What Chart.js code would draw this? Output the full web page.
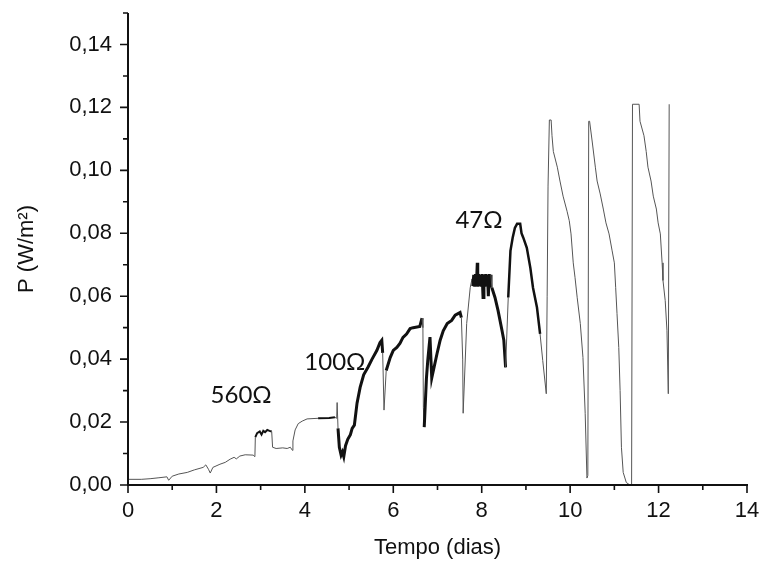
<!DOCTYPE html>
<html>
<head>
<meta charset="utf-8">
<script src="https://cdn.jsdelivr.net/npm/chart.js@4.4.1/dist/chart.umd.min.js"></script>
<style>
html,body{margin:0;padding:0;background:#fff;}
#wrap{width:763px;height:564px;position:relative;}
</style>
</head>
<body>
<div id="wrap"><canvas id="c" width="763" height="564"></canvas></div>
<script>
// ---- data ----
const tempo = [
 0.00,0.30,0.50,0.70,0.88,0.92,1.00,1.15,1.34,1.50,1.70,1.76,1.82,1.86,1.92,2.08,2.20,2.31,2.40,2.45,
 2.53,2.65,2.83,2.87,2.88,2.92,2.98,3.02,3.06,3.10,3.15,3.20,3.25,3.27,3.35,3.50,3.60,3.67,3.72,3.73,
 3.78,3.85,3.94,4.05,4.30,4.55,4.68,4.72,4.73,4.75,4.78,4.82,4.85,4.88,4.92,4.97,5.03,5.07,5.12,5.18,
 5.25,5.33,5.43,5.52,5.63,5.70,5.74,5.76,5.79,5.84,5.93,6.00,6.08,6.15,6.22,6.30,6.38,6.45,6.60,6.65,
 6.67,6.68,6.70,6.75,6.78,6.83,6.87,6.99,7.06,7.13,7.22,7.32,7.40,7.51,7.54,7.57,7.58,7.66,7.74,7.78,
 7.80,7.82,7.84,7.86,7.88,7.90,7.91,7.93,7.95,7.97,7.99,8.01,8.03,8.05,8.07,8.09,8.11,8.13,8.15,8.17,
 8.19,8.21,8.23,8.30,8.37,8.46,8.50,8.54,8.60,8.65,8.70,8.75,8.80,8.87,8.90,8.94,9.02,9.10,9.16,9.25,
 9.32,9.38,9.46,9.48,9.50,9.53,9.57,9.59,9.62,9.71,9.77,9.84,9.93,9.98,10.02,10.07,10.11,10.16,10.23,10.29,
 10.34,10.38,10.40,10.42,10.44,10.50,10.57,10.61,10.68,10.75,10.81,10.88,10.95,11.00,11.03,11.06,11.10,11.13,11.16,11.20,
 11.27,11.35,11.39,11.41,11.56,11.58,11.67,11.72,11.76,11.83,11.88,11.95,11.99,12.04,12.08,12.10,12.15,12.19,12.22,12.24
];
const potencia = [
 0.0018,0.0018,0.0020,0.0023,0.0026,0.0015,0.0028,0.0035,0.0040,0.0048,0.0056,0.0064,0.0050,0.0038,0.0056,0.0066,0.0072,0.0082,0.0088,0.0083,
 0.0092,0.0096,0.0095,0.0090,0.0152,0.0165,0.0170,0.0160,0.0172,0.0168,0.0175,0.0172,0.0170,0.0120,0.0116,0.0118,0.0116,0.0120,0.0110,0.0140,
 0.0175,0.0195,0.0203,0.0210,0.0212,0.0213,0.0215,0.0212,0.0262,0.0180,0.0120,0.0095,0.0105,0.0090,0.0125,0.0145,0.0160,0.0180,0.0190,0.0260,
 0.0310,0.0350,0.0375,0.0400,0.0428,0.0453,0.0460,0.0420,0.0238,0.0364,0.0405,0.0428,0.0437,0.0450,0.0469,0.0480,0.0497,0.0500,0.0504,0.0530,
 0.0500,0.0247,0.0184,0.0340,0.0396,0.0470,0.0340,0.0418,0.0460,0.0490,0.0513,0.0523,0.0540,0.0548,0.0532,0.0400,0.0228,0.0513,0.0627,0.0655,
 0.0632,0.0668,0.0630,0.0670,0.0632,0.0706,0.0630,0.0670,0.0632,0.0668,0.0630,0.0670,0.0596,0.0668,0.0630,0.0670,0.0632,0.0668,0.0600,0.0670,
 0.0632,0.0668,0.0627,0.0596,0.0554,0.0490,0.0460,0.0374,0.0596,0.0744,0.0786,0.0817,0.0830,0.0830,0.0800,0.0786,0.0754,0.0690,0.0627,0.0564,
 0.0480,0.0396,0.0290,0.0600,0.0950,0.1160,0.1160,0.1110,0.1060,0.1010,0.0966,0.0918,0.0870,0.0840,0.0798,0.0706,0.0660,0.0595,0.0513,0.0405,
 0.0228,0.0022,0.0030,0.1156,0.1156,0.1090,0.1010,0.0966,0.0925,0.0877,0.0833,0.0798,0.0744,0.0706,0.0627,0.0545,0.0437,0.0300,0.0120,0.0040,
 0.0008,0.0000,0.0000,0.1210,0.1210,0.1156,0.1110,0.1060,0.1010,0.0966,0.0918,0.0877,0.0833,0.0798,0.0706,0.0650,0.0586,0.0490,0.0290,0.1210
];
const xTickValues = [0,2,4,6,8,10,12,14];
const yTickValues = [0,0.02,0.04,0.06,0.08,0.10,0.12,0.14];
const labelTexts = ['560\u03A9','100\u03A9','47\u03A9'];
const labelX = [2.56,4.68,7.94];
const labelY = [0.0285,0.0390,0.0840];

// ---- styling ----
const FONT = '"Liberation Sans", Arial, sans-serif';
const noisyRanges = [[2.88,3.26,2],[4.20,4.70,2],[4.74,5.77,3],[5.80,6.66,3],[6.70,7.56,3],[7.79,8.22,3],[8.22,8.56,3],[8.58,9.35,2.5]];
function widthFor(a,b){
  for(const r of noisyRanges){ if(a>=r[0] && b<=r[1]) return r[2]; }
  return 1;
}

const axesPlugin = {
  id:'axesPlugin',
  afterDraw(chart){
    const ctx = chart.ctx, xs = chart.scales.x, ys = chart.scales.y;
    const x0 = xs.getPixelForValue(0), x1 = xs.getPixelForValue(14);
    const y0 = ys.getPixelForValue(0), y1 = ys.getPixelForValue(0.15);
    ctx.save();
    ctx.strokeStyle = '#111';
    ctx.lineWidth = 2;
    ctx.beginPath();
    ctx.moveTo(x0, y1); ctx.lineTo(x0, y0+1);
    ctx.moveTo(x0-1, y0); ctx.lineTo(x1+1, y0);
    ctx.stroke();
    ctx.lineWidth = 1.6;
    ctx.beginPath();
    for(let i=0;i<=15;i++){
      const v = i/100, p = ys.getPixelForValue(v), len = (i%2===0)?8:5;
      ctx.moveTo(x0, p); ctx.lineTo(x0-len, p);
    }
    for(let i=0;i<=14;i++){
      const p = xs.getPixelForValue(i), len = (i%2===0)?8:5;
      ctx.moveTo(p, y0); ctx.lineTo(p, y0+len);
    }
    ctx.stroke();
    ctx.fillStyle = '#111';
    ctx.font = '24px Lato, "Noto Sans", sans-serif';
    ctx.textAlign = 'center';
    ctx.textBaseline = 'middle';
    for(let i=0;i<labelTexts.length;i++){
      ctx.fillText(labelTexts[i], xs.getPixelForValue(labelX[i]), ys.getPixelForValue(labelY[i]));
    }
    ctx.restore();
  }
};

new Chart(document.getElementById('c'), {
  type:'line',
  data:{
    datasets:[{
      data: tempo.map((t,i)=>({x:t, y:potencia[i]})),
      borderColor:'#555',
      borderWidth:1,
      pointRadius:0,
      tension:0,
      fill:false,
      segment:{
        borderWidth: c => widthFor(c.p0.parsed.x, c.p1.parsed.x),
        borderColor: c => widthFor(c.p0.parsed.x, c.p1.parsed.x) > 1 ? '#111' : '#555'
      }
    }]
  },
  options:{
    responsive:false,
    animation:false,
    devicePixelRatio:1,
    layout:{padding:{left:0,top:13,right:16,bottom:0}},
    plugins:{legend:{display:false},tooltip:{enabled:false}},
    scales:{
      x:{
        type:'linear', min:0, max:14,
        afterBuildTicks: s => { s.ticks = xTickValues.map(v=>({value:v})); },
        afterFit: s => { s.height = 79; s.paddingLeft = 0; s.paddingRight = 0; },
        grid:{display:false, drawTicks:false},
        border:{display:false},
        ticks:{padding:13, color:'#111', font:{family:FONT, size:22}, maxRotation:0,
               callback: v => String(v)},
        title:{display:true, text:'Tempo (dias)', color:'#111', font:{family:FONT, size:22}, padding:{top:0,bottom:3}}
      },
      y:{
        type:'linear', min:0, max:0.15,
        afterBuildTicks: s => { s.ticks = yTickValues.map(v=>({value:v})); },
        afterFit: s => { s.width = 128; s.paddingTop = 0; s.paddingBottom = 0; },
        grid:{display:false, drawTicks:false},
        border:{display:false},
        ticks:{padding:16, color:'#111', font:{family:FONT, size:22},
               callback: v => v.toFixed(2).replace('.', ',')},
        title:{display:true, text:'P (W/m\u00B2)', color:'#111', font:{family:FONT, size:22}, padding:{top:14,bottom:0}}
      }
    }
  },
  plugins:[axesPlugin]
});
</script>
</body>
</html>
